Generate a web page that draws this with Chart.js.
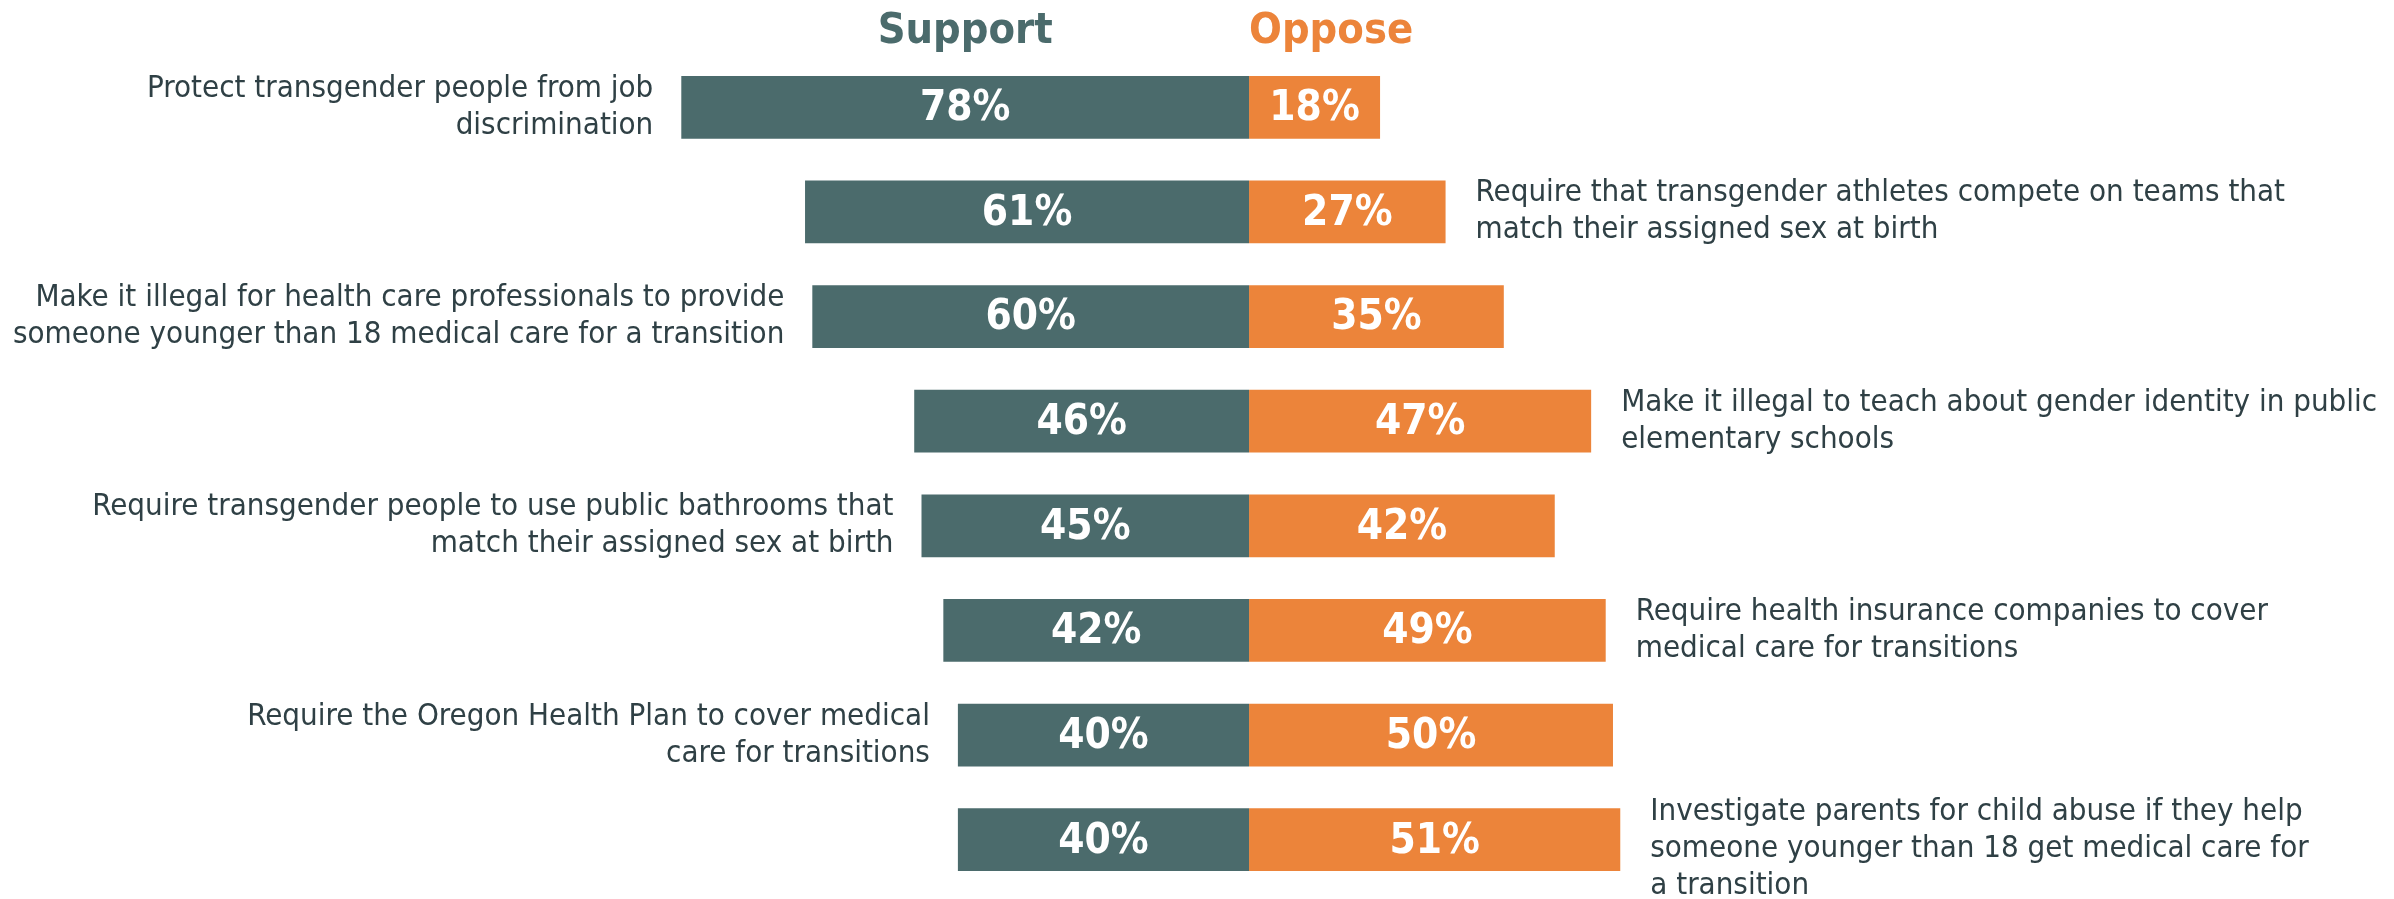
<!DOCTYPE html>
<html>
<head>
<meta charset="utf-8">
<script src="https://cdn.jsdelivr.net/npm/chart.js@4"></script>
<style>
  html, body { margin: 0; padding: 0; background: #ffffff; }
  #wrap { width: 2394px; height: 899px; position: relative; }
</style>
</head>
<body>
<div id="wrap"><canvas id="chart"></canvas></div>
<script>
// Data
const categories = [
  ["Protect transgender people from job", "discrimination"],
  ["Require that transgender athletes compete on teams that", "match their assigned sex at birth"],
  ["Make it illegal for health care professionals to provide", "someone younger than 18 medical care for a transition"],
  ["Make it illegal to teach about gender identity in public", "elementary schools"],
  ["Require transgender people to use public bathrooms that", "match their assigned sex at birth"],
  ["Require health insurance companies to cover", "medical care for transitions"],
  ["Require the Oregon Health Plan to cover medical", "care for transitions"],
  ["Investigate parents for child abuse if they help", "someone younger than 18 get medical care for", "a transition"],
];
const supportValues = [78, 61, 60, 46, 45, 42, 40, 40];
const opposeValues = [18, 27, 35, 47, 42, 49, 50, 51];
const seriesNames = ["Support", "Oppose"];

// Colors
const supportColor = "#4b6b6c";
const opposeColor = "#ec843a";
const textColor = "#2f4045";
const fontFamily = "'DejaVu Sans Condensed', 'DejaVu Sans', sans-serif";

// Plugin untuk teks: judul, label kategori, label nilai
const labelPlugin = {
  id: "labelPlugin",
  afterDatasetsDraw(chart) {
    const ctx = chart.ctx;
    const xScale = chart.scales.x;
    const supMeta = chart.getDatasetMeta(0);
    const oppMeta = chart.getDatasetMeta(1);

    ctx.save();

    // Judul kolom
    ctx.font = "bold 43px " + fontFamily;
    ctx.textBaseline = "alphabetic";
    ctx.fillStyle = supportColor;
    ctx.textAlign = "center";
    ctx.fillText(seriesNames[0], xScale.getPixelForValue(-39), 43);
    ctx.fillStyle = opposeColor;
    ctx.textAlign = "left";
    ctx.fillText(seriesNames[1], xScale.getPixelForValue(0), 43);

    // Label nilai di dalam bar
    ctx.font = "bold 42px " + fontFamily;
    ctx.fillStyle = "#ffffff";
    ctx.textAlign = "center";
    ctx.textBaseline = "middle";
    supMeta.data.forEach((bar, i) => {
      ctx.fillText(supportValues[i] + "%", (bar.x + bar.base) / 2, bar.y + 2);
    });
    oppMeta.data.forEach((bar, i) => {
      ctx.fillText(opposeValues[i] + "%", (bar.x + bar.base) / 2, bar.y + 2);
    });

    // Label kategori, bergantian kiri dan kanan
    ctx.font = "31px " + fontFamily;
    ctx.fillStyle = textColor;
    const lineH = 37;
    categories.forEach((lines, i) => {
      // label 3 baris sedikit turun, seperti di gambar asli
      const extra = lines.length > 2 ? 9 : 0;
      const y0 = supMeta.data[i].y - ((lines.length - 1) * lineH) / 2 + extra;
      let x;
      if (i % 2 === 0) {
        ctx.textAlign = "right";
        x = supMeta.data[i].x - 28;
      } else {
        ctx.textAlign = "left";
        x = oppMeta.data[i].x + 30;
      }
      lines.forEach((line, j) => {
        ctx.fillText(line, x, y0 + j * lineH);
      });
    });

    ctx.restore();
  },
};

new Chart(document.getElementById("chart"), {
  type: "bar",
  data: {
    labels: categories,
    datasets: [
      {
        label: seriesNames[0],
        data: supportValues.map((v) => -v),
        backgroundColor: supportColor,
        barPercentage: 0.6,
        categoryPercentage: 1,
      },
      {
        label: seriesNames[1],
        data: opposeValues,
        backgroundColor: opposeColor,
        barPercentage: 0.6,
        categoryPercentage: 1,
      },
    ],
  },
  options: {
    indexAxis: "y",
    responsive: true,
    maintainAspectRatio: false,
    animation: false,
    layout: { padding: { top: 55, bottom: 7, left: 0, right: 0 } },
    plugins: {
      legend: { display: false },
      tooltip: { enabled: false },
    },
    scales: {
      x: { stacked: true, display: false, min: -171.6, max: 157.3 },
      y: { stacked: true, display: false },
    },
  },
  plugins: [labelPlugin],
});
</script>
</body>
</html>
